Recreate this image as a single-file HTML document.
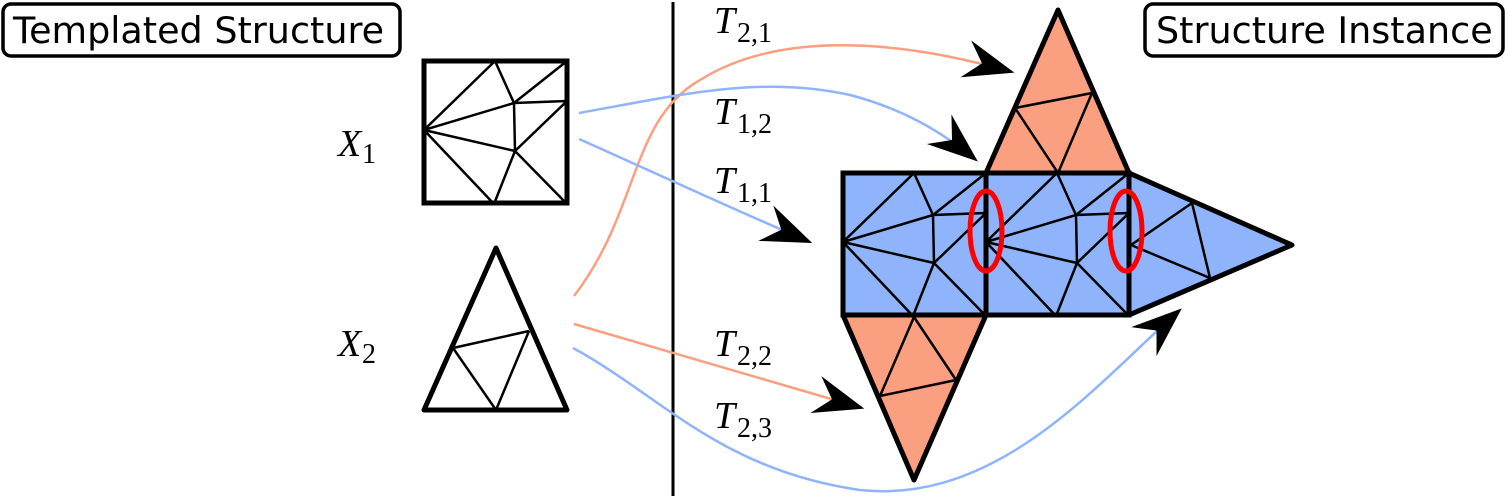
<!DOCTYPE html>
<html><head><style>
html,body{margin:0;padding:0;background:#fff;width:1508px;height:498px;overflow:hidden}
svg{display:block}
.lab{font-family:"Liberation Serif",serif;font-style:italic;font-size:38px}
.sub{font-family:"Liberation Serif",serif;font-style:normal;font-size:28px}
.box{font-family:"DejaVu Sans","Liberation Sans",sans-serif;font-size:36.5px}
</style></head><body>
<svg width="1508" height="498" viewBox="0 0 1508 498" xmlns="http://www.w3.org/2000/svg">
<defs>
<marker id="ah" markerUnits="userSpaceOnUse" markerWidth="60" markerHeight="60" refX="0" refY="0" viewBox="-45 -25 50 50" orient="auto" overflow="visible">
<path d="M2,0 L-40,-16 L-26,0 L-40,16 Z" fill="#000"/>
</marker>
<g id="sq" stroke="#000" stroke-width="2.5" fill="none">
<path d="M71,0 L90,42 L143,0 M90,42 L143,40 M0,69 L71,0 M0,69 L90,42 M0,69 L91,90 M90,42 L91,90 L143,40 M91,90 L70,143 M0,69 L70,143 M91,90 L143,143"/>
</g>
</defs>

<rect x="3" y="4" width="397" height="52" rx="8" fill="#fff" stroke="#000" stroke-width="3.5"/>
<text x="13" y="43" class="box">Templated Structure</text>
<rect x="1145" y="4" width="358" height="52" rx="8" fill="#fff" stroke="#000" stroke-width="3.5"/>
<text x="1156" y="43" class="box">Structure Instance</text>

<line x1="673" y1="2" x2="673" y2="496" stroke="#000" stroke-width="3"/>

<g transform="translate(424,61)">
<use href="#sq"/>
<rect x="0" y="0" width="143" height="142" fill="none" stroke="#000" stroke-width="5"/>
</g>
<text x="338" y="156" class="lab">X</text><text x="362" y="163" class="sub">1</text>

<polygon points="496,248 424,410 567,410" fill="none" stroke="#000" stroke-width="5" stroke-linejoin="round"/>
<path d="M453,348 L529,331 M453,348 L496,410 L529,331" stroke="#000" stroke-width="2.5" fill="none"/>
<text x="338" y="356" class="lab">X</text><text x="362" y="363" class="sub">2</text>

<polygon points="1058,10 986,173 1129,173" fill="#fa9f80" stroke="#000" stroke-width="5" stroke-linejoin="round"/>
<path d="M1015,108 L1092,93 M1015,108 L1058,173 L1092,93" stroke="#000" stroke-width="2.5" fill="none"/>
<polygon points="843,315 986,315 914,480" fill="#fa9f80" stroke="#000" stroke-width="5" stroke-linejoin="round"/>
<path d="M880,396 L956,380 M880,396 L914,317 L956,380" stroke="#000" stroke-width="2.5" fill="none"/>
<polygon points="1129,173 1292,245 1129,315" fill="#8fb4fb" stroke="#000" stroke-width="5" stroke-linejoin="round"/>
<path d="M1131,245 L1192,203 L1210,278 L1131,245" stroke="#000" stroke-width="2.5" fill="none"/>
<rect x="843" y="173" width="143" height="142" fill="#8fb4fb"/>
<rect x="986" y="173" width="143" height="142" fill="#8fb4fb"/>
<g transform="translate(843,173)"><use href="#sq"/></g>
<g transform="translate(986,173)"><use href="#sq"/></g>
<rect x="843" y="173" width="286" height="142" fill="none" stroke="#000" stroke-width="5"/>
<line x1="986" y1="173" x2="986" y2="315" stroke="#000" stroke-width="5"/>
<ellipse cx="986" cy="231" rx="16" ry="40" fill="none" stroke="#f00" stroke-width="5"/>
<ellipse cx="1126" cy="231" rx="16" ry="40" fill="none" stroke="#f00" stroke-width="5"/>

<g fill="none" stroke-width="2.5">
<path d="M574,296 C640,210 630,120 700,80 C780,30 900,40 1012,72" stroke="#fa9f80" marker-end="url(#ah)"/>
<path d="M579,113 C680,95 760,75 850,95 C900,108 940,130 976,160" stroke="#8fb4fb" marker-end="url(#ah)"/>
<path d="M579,139 C660,175 730,208 810,242" stroke="#8fb4fb" marker-end="url(#ah)"/>
<path d="M574,324 L862,408" stroke="#fa9f80" marker-end="url(#ah)"/>
<path d="M573,348 C660,395 720,470 860,490 C1000,505 1100,380 1180,310" stroke="#8fb4fb" marker-end="url(#ah)"/>
</g>

<text x="714" y="33" class="lab">T</text><text x="737" y="42" class="sub">2,1</text>
<text x="714" y="124" class="lab">T</text><text x="737" y="133" class="sub">1,2</text>
<text x="714" y="193" class="lab">T</text><text x="737" y="202" class="sub">1,1</text>
<text x="714" y="356" class="lab">T</text><text x="737" y="365" class="sub">2,2</text>
<text x="714" y="428" class="lab">T</text><text x="737" y="437" class="sub">2,3</text>
</svg>
</body></html>
